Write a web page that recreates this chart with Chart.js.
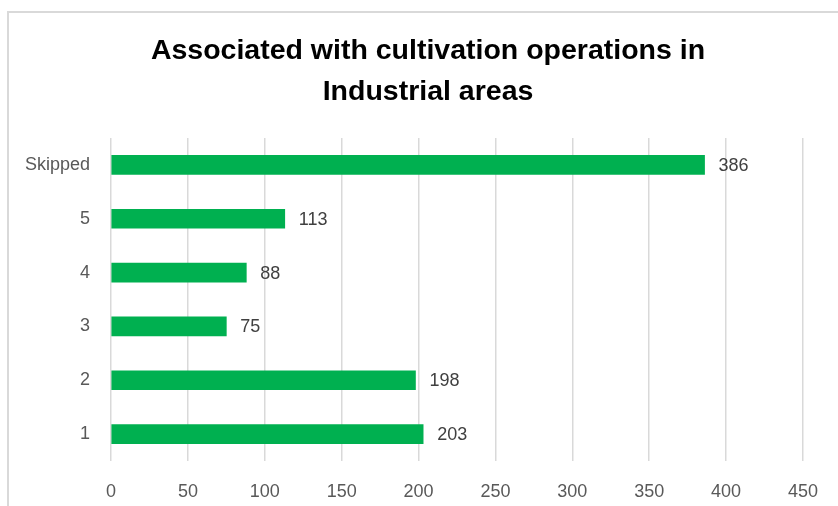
<!DOCTYPE html>
<html>
<head>
<meta charset="utf-8">
<title>Associated with cultivation operations in Industrial areas</title>
<script src="https://cdn.jsdelivr.net/npm/chart.js@4.4.1/dist/chart.umd.min.js"></script>
<style>
    html, body { margin: 0; padding: 0; background: #fff; overflow: hidden; }
    #wrap { position: relative; width: 838px; height: 506px; }
    #frame { position: absolute; left: 7px; top: 11px; width: 900px; height: 600px; border: 2px solid #d9d9d9; box-sizing: border-box; }
    #chart { position: absolute; left: 0; top: 0; }
</style>
</head>
<body>
<div id="wrap">
    <div id="frame"></div>
    <canvas id="chart" width="838" height="506"></canvas>
</div>
<script>
// 图表数据
var titleLines = ['Associated with cultivation operations in', 'Industrial areas'];
var categories = ['Skipped', '5', '4', '3', '2', '1'];
var counts = [386, 113, 88, 75, 198, 203];
var xTicks = [0, 50, 100, 150, 200, 250, 300, 350, 400, 450];

// 标题：外框中心不在画布中心，所以自己画
var titlePlugin = {
    id: 'titleLines',
    afterDraw: function(chart) {
        var ctx = chart.ctx;
        ctx.save();
        ctx.font = 'bold 28.5px "Liberation Sans", Arial, sans-serif';
        ctx.fillStyle = '#000';
        ctx.textAlign = 'center';
        ctx.textBaseline = 'middle';
        titleLines.forEach(function(line, i) {
            ctx.fillText(line, 428, 51 + i * 41);
        });
        ctx.restore();
    }
};

// 在柱子末端写数值
var valueLabels = {
    id: 'valueLabels',
    afterDatasetsDraw: function(chart) {
        var ctx = chart.ctx;
        var meta = chart.getDatasetMeta(0);
        ctx.save();
        ctx.font = '18px "Liberation Sans", Arial, sans-serif';
        ctx.fillStyle = '#404040';
        ctx.textAlign = 'left';
        ctx.textBaseline = 'middle';
        meta.data.forEach(function(bar, i) {
            ctx.fillText(String(counts[i]), bar.x + 14, bar.y + 1);
        });
        ctx.restore();
    }
};

var chart = new Chart(document.getElementById('chart'), {
    type: 'bar',
    data: {
        labels: categories,
        datasets: [{
            data: counts,
            backgroundColor: '#00b050',
            borderWidth: 0,
            barThickness: 19
        }]
    },
    options: {
        indexAxis: 'y',
        responsive: false,
        animation: false,
        layout: { padding: { left: 0, right: 32, top: 138, bottom: 0 } },
        plugins: {
            legend: { display: false },
            tooltip: { enabled: false },
            title: { display: false }
        },
        scales: {
            x: {
                min: 0,
                max: 450,
                afterBuildTicks: function(scale) {
                    scale.ticks = xTicks.map(function(v) { return { value: v }; });
                },
                afterFit: function(scale) { scale.height = 45; },
                grid: { color: '#d9d9d9', lineWidth: 1.5, drawTicks: false },
                border: { display: false },
                ticks: {
                    color: '#595959',
                    padding: 20,
                    font: { family: '"Liberation Sans", Arial, sans-serif', size: 18 }
                }
            },
            y: {
                afterFit: function(scale) { scale.width = 111; },
                grid: { display: false, drawTicks: false },
                border: { display: false },
                ticks: {
                    color: '#595959',
                    padding: 21,
                    font: { family: '"Liberation Sans", Arial, sans-serif', size: 18 }
                }
            }
        }
    },
    plugins: [valueLabels, titlePlugin]
});
</script>
</body>
</html>
